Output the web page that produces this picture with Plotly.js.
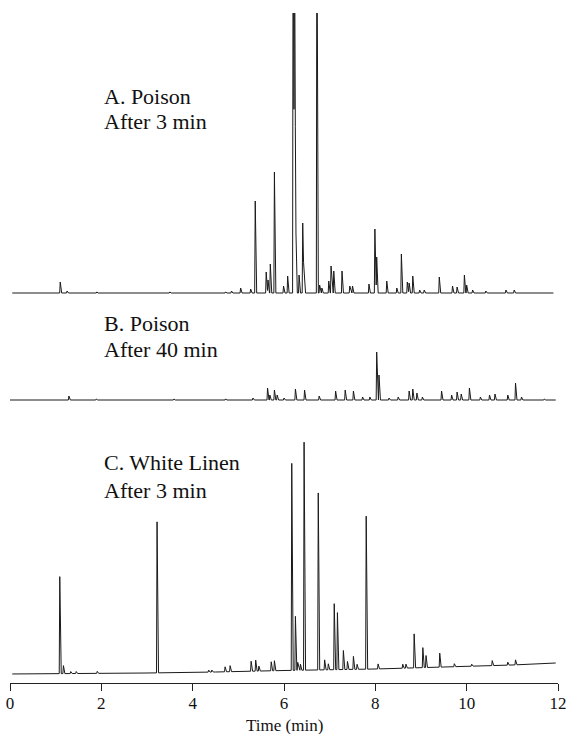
<!DOCTYPE html>
<html>
<head>
<meta charset="utf-8">
<script src="https://cdn.plot.ly/plotly-3.0.1.min.js"></script>
<style>html,body{margin:0;padding:0;background:#fff;}#chart{width:567px;height:734px;}</style>
</head>
<body>
<div id="chart"></div>
<script>
// ---- Data (retention time in min, peak height in detector units) ----
// A. Poison, after 3 min
const tA = [1.10, 1.25, 1.90, 3.50, 4.72, 4.85, 5.05, 5.27, 5.37, 5.61, 5.65, 5.70, 5.79, 5.99, 6.08, 6.20, 6.23, 6.26, 6.33, 6.41, 6.44, 6.72, 6.78, 6.83, 6.98, 7.03, 7.09, 7.27, 7.44, 7.50, 7.86, 7.99, 8.03, 8.25, 8.47, 8.57, 8.70, 8.74, 8.82, 8.97, 9.07, 9.40, 9.69, 9.79, 9.95, 10.00, 10.13, 10.42, 10.86, 11.04];
const hA = [11, 2, 1, 1, 1, 2, 5, 4, 92, 21, 13, 29, 121, 7, 17, 420, 380, 64, 18, 70, 17, 400, 8, 5, 12, 27, 22, 22, 7, 7, 9, 64, 36, 12, 5, 39, 11, 10, 17, 3, 3, 16, 7, 6, 18, 8, 3, 2, 3, 3];
const spanA = [0.05, 11.9];

// B. Poison, after 40 min
const tB = [1.29, 1.89, 3.59, 4.72, 5.32, 5.64, 5.69, 5.79, 5.85, 6.00, 6.25, 6.45, 6.77, 7.13, 7.34, 7.52, 7.72, 7.88, 8.03, 8.08, 8.30, 8.50, 8.74, 8.82, 8.91, 9.03, 9.45, 9.67, 9.79, 9.88, 10.06, 10.30, 10.50, 10.62, 10.90, 11.07, 11.20, 11.70];
const hB = [4, 1, 1, 1, 2, 12, 5, 10, 5, 2, 11, 10, 4, 9, 10, 9, 3, 3, 48, 25, 2, 3, 9, 11, 7, 3, 9, 5, 8, 6, 12, 3, 5, 6, 5, 17, 3, 1];
const spanB = [0.0, 11.95];

// C. White Linen, after 3 min
const tC = [1.09, 1.17, 1.33, 1.45, 1.91, 3.22, 4.35, 4.42, 4.71, 4.82, 5.28, 5.38, 5.45, 5.72, 5.79, 6.17, 6.25, 6.30, 6.36, 6.44, 6.75, 6.89, 6.97, 7.10, 7.17, 7.30, 7.39, 7.52, 7.60, 7.80, 8.06, 8.60, 8.67, 8.85, 9.04, 9.11, 9.41, 9.73, 10.11, 10.56, 10.90, 11.07];
const hC = [97, 8, 2, 2, 2, 151, 2, 2, 5, 6, 10, 11, 5, 9, 10, 207, 54, 8, 6, 228, 177, 10, 6, 66, 57, 19, 8, 13, 5, 153, 5, 4, 4, 34, 20, 12, 14, 3, 2, 5, 3, 5];
const spanC = [0.05, 11.95];
// baseline drift of trace C
const driftT = [0, 3.0, 4.5, 6.0, 8.0, 9.5, 11.0, 11.95];
const driftV = [0, 1, 2, 3.5, 5, 7, 9, 11];

// labels
const labelsA = ["A. Poison", "After 3 min"];
const labelsB = ["B. Poison", "After 40 min"];
const labelsC = ["C. White Linen", "After 3 min"];
const xTicks = [0, 2, 4, 6, 8, 10, 12];
const xTitle = "Time (min)";

// ---- Build piecewise-linear chromatogram traces from the peak tables ----
const WL = 0.012, WR = 0.032;
function driftAt(t, dT, dV) {
  if (!dT) return 0;
  if (t <= dT[0]) return dV[0];
  for (let i = 1; i < dT.length; i++) {
    if (t <= dT[i]) { const f = (t - dT[i-1]) / (dT[i] - dT[i-1]); return dV[i-1] + f * (dV[i] - dV[i-1]); }
  }
  return dV[dV.length - 1];
}
function buildTrace(ts, hs, span, dT, dV) {
  let bp = [span[0], span[1]];
  ts.forEach(t => { bp.push(t - WL, t, t + WR); });
  if (dT) dT.forEach(t => bp.push(t));
  bp = bp.filter(t => t >= span[0] && t <= span[1]).sort((a, b) => a - b);
  const xs = [], ys = [];
  let last = -1;
  bp.forEach(t => {
    if (Math.abs(t - last) < 1e-9) return;
    last = t;
    let y = driftAt(t, dT, dV);
    for (let i = 0; i < ts.length; i++) {
      const p = ts[i], h = hs[i];
      if (t >= p - WL && t <= p) y += h * (t - (p - WL)) / WL;
      else if (t > p && t <= p + WR) y += h * (1 - (t - p) / WR);
    }
    xs.push(t); ys.push(y);
  });
  return {x: xs, y: ys};
}

const trA = buildTrace(tA, hA, spanA);
const trB = buildTrace(tB, hB, spanB);
const trC = buildTrace(tC, hC, spanC, driftT, driftV);

const lineStyle = {color: '#1a1a1a', width: 1};
const data = [
  {type: 'scatter', mode: 'lines', x: trA.x, y: trA.y, xaxis: 'x', yaxis: 'y', line: lineStyle, hoverinfo: 'skip'},
  {type: 'scatter', mode: 'lines', x: trB.x, y: trB.y, xaxis: 'x', yaxis: 'y2', line: lineStyle, hoverinfo: 'skip'},
  {type: 'scatter', mode: 'lines', x: trC.x, y: trC.y, xaxis: 'x', yaxis: 'y3', line: lineStyle, hoverinfo: 'skip'}
];

// ---- Layout (pixel geometry) ----
const W = 567, H = 734, plotTop = 13, plotBot = 683, plotH = plotBot - plotTop;
const frac = p => (plotBot - p) / plotH;
const serif = "Liberation Serif";
const hiddenY = {visible: false, showgrid: false, zeroline: false, fixedrange: true, anchor: 'x'};

function lab(text, xMin, yPx) {
  return {text: text, xref: 'x', yref: 'paper', x: xMin, y: frac(yPx), xanchor: 'left', yanchor: 'middle',
          showarrow: false, borderpad: 0, font: {family: serif, size: 22, color: '#111'}};
}
const labX = 2.03;
const annotations = [
  lab(labelsA[0], labX, 97), lab(labelsA[1], labX, 122),
  lab(labelsB[0], labX, 323), lab(labelsB[1], labX, 349),
  lab(labelsC[0], labX, 463), lab(labelsC[1], labX, 490),
  {text: xTitle, xref: 'paper', yref: 'paper', x: 0.5, y: frac(725), xanchor: 'center', yanchor: 'middle',
   showarrow: false, borderpad: 0, font: {family: serif, size: 17, color: '#111'}}
];

const layout = {
  width: W, height: H,
  margin: {l: 10, r: 9, t: plotTop, b: H - plotBot},
  paper_bgcolor: '#fff', plot_bgcolor: '#fff',
  showlegend: false,
  font: {family: serif, color: '#111'},
  xaxis: {
    range: [0, 12], tickvals: xTicks, ticktext: xTicks.map(String),
    showline: true, linecolor: '#222', linewidth: 1, mirror: false,
    ticks: 'outside', ticklen: 7, tickwidth: 1, tickcolor: '#222',
    showgrid: false, zeroline: false, anchor: 'y3',
    ticklabelstandoff: -2,
    tickfont: {family: serif, size: 17, color: '#111'}
  },
  yaxis: Object.assign({domain: [frac(300), 1], range: [-7, 280]}, hiddenY),
  yaxis2: Object.assign({domain: [frac(410), frac(330)], range: [-10, 70]}, hiddenY),
  yaxis3: Object.assign({domain: [0, frac(420)], range: [-9, 254]}, hiddenY),
  annotations: annotations
};

Plotly.newPlot('chart', data, layout, {staticPlot: true, displayModeBar: false});
</script>
</body>
</html>
